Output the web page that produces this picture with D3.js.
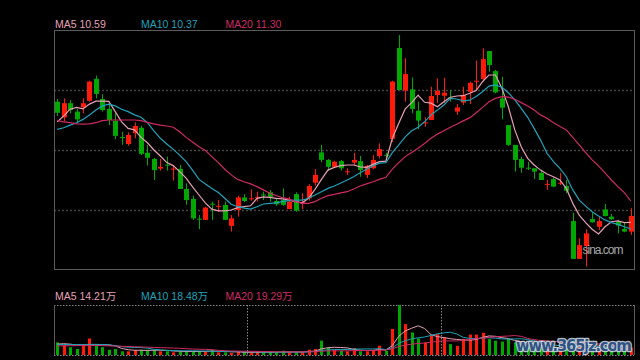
<!DOCTYPE html>
<html><head><meta charset="utf-8">
<script src="https://cdn.jsdelivr.net/npm/d3@7"></script>
<style>html,body{margin:0;padding:0;background:#000;}svg{display:block;}</style>
</head><body><svg id="c" width="640" height="360"></svg>
<script>
// ---------- data (prices in yuan, volumes in 万) ----------
const open = [14.61,14.09,14.56,14.28,14.42,14.64,15.37,14.70,14.37,13.97,
13.43,13.20,13.56,13.74,12.91,12.70,12.38,12.51,12.37,12.37,
11.70,11.37,10.71,10.67,11.21,11.13,11.17,10.47,11.00,11.42,
11.38,11.43,11.52,11.59,11.30,11.33,11.03,11.53,11.22,11.39,
11.91,12.92,12.67,12.44,12.63,12.28,12.58,12.63,12.17,12.39,
12.80,12.84,13.37,16.40,14.98,15.02,14.31,13.91,14.00,14.83,
14.81,14.75,14.28,14.58,14.94,15.30,15.37,16.30,15.63,14.72,
13.83,13.17,12.70,12.41,12.39,12.24,11.86,12.03,11.90,11.80,
10.63,9.37,9.80,10.70,10.44,11.02,10.78,10.61,10.37,10.28];
const close = [14.24,14.56,14.33,14.02,14.56,15.28,14.87,14.33,14.00,13.47,
13.42,13.50,13.80,12.87,12.74,12.33,12.44,12.50,12.38,11.70,
11.33,10.72,10.70,11.08,11.20,11.14,10.67,10.72,11.42,11.30,
11.39,11.44,11.51,11.44,11.19,11.17,11.28,10.98,11.26,11.80,
12.17,12.67,12.44,12.61,12.39,12.29,12.67,12.33,12.47,12.67,
13.03,12.83,15.28,15.00,15.53,14.37,13.98,13.92,14.80,14.97,
14.91,14.74,14.42,14.83,15.24,15.31,16.03,15.83,14.92,14.41,
13.17,12.67,12.41,12.40,12.28,12.00,11.87,11.78,11.91,11.64,
9.37,9.83,10.22,10.59,10.63,10.80,10.69,10.48,10.28,10.80];
const high = [14.70,14.72,14.67,14.37,14.72,15.31,15.48,14.86,14.50,14.22,
13.61,13.59,13.92,13.81,13.17,12.74,12.70,12.78,12.50,12.50,
11.89,11.48,10.83,11.11,11.28,11.33,11.28,10.83,11.48,11.53,
11.69,11.61,11.61,11.67,11.39,11.72,11.44,11.59,11.56,11.86,
12.37,13.17,12.70,12.64,12.67,12.39,12.91,12.80,12.50,12.83,
13.22,12.91,15.31,16.83,16.06,15.42,14.61,14.09,15.11,15.39,
15.41,15.00,14.53,15.11,15.28,15.98,16.39,16.30,15.67,15.44,
13.83,13.17,12.78,12.61,12.39,12.33,12.00,12.08,12.24,12.00,
10.91,10.06,10.36,10.91,10.78,11.20,10.87,10.67,10.58,11.06];
const low = [14.13,13.94,14.22,13.89,14.22,14.61,14.72,14.28,13.83,13.36,
13.17,13.14,13.39,12.83,12.48,12.00,12.31,12.31,11.98,11.70,
11.17,10.67,10.36,10.67,10.67,10.94,10.67,10.28,10.78,11.26,
11.31,11.28,11.33,11.28,11.14,11.14,11.03,10.94,11.03,11.31,
11.81,12.59,12.31,12.42,12.31,12.17,12.50,12.11,12.06,12.36,
12.72,12.67,13.26,15.00,14.61,14.22,13.69,13.78,14.00,14.56,
14.58,14.61,14.17,14.50,14.53,15.00,15.28,15.61,14.89,14.02,
13.13,12.28,12.24,12.33,12.03,12.00,11.67,11.76,11.83,11.56,
9.37,9.37,9.11,10.58,10.33,10.78,10.67,10.22,10.26,10.17];

const ma5 = [13.94,14.13,14.36,14.42,14.37,14.53,14.63,14.63,14.62,14.28,
13.94,13.72,13.67,13.42,13.24,13.00,12.80,12.58,12.48,12.28,
12.06,11.77,11.50,11.23,11.03,10.97,10.97,11.00,11.08,11.11,
11.14,11.39,11.44,11.42,11.39,11.37,11.33,11.28,11.24,11.39,
11.69,12.02,12.33,12.42,12.48,12.50,12.50,12.44,12.42,12.52,
12.61,12.63,13.39,13.89,14.37,14.58,14.83,14.59,14.56,14.44,
14.61,14.76,14.80,14.81,14.89,14.98,15.28,15.50,15.50,15.06,
14.44,13.67,13.11,12.72,12.50,12.33,12.20,12.11,12.00,11.72,
11.22,10.83,10.58,10.36,10.20,10.44,10.61,10.64,10.58,10.59];
const ma10 = [13.69,13.74,13.83,13.91,14.02,14.17,14.33,14.47,14.53,14.47,
14.36,14.28,14.17,14.09,13.91,13.64,13.39,13.20,13.02,12.83,
12.61,12.33,12.02,11.87,11.72,11.58,11.39,11.19,11.11,11.06,
11.03,11.11,11.20,11.22,11.24,11.29,11.31,11.33,11.33,11.39,
11.50,11.61,11.72,11.80,11.90,12.00,12.11,12.24,12.36,12.47,
12.56,12.58,12.91,13.17,13.44,13.64,13.76,13.94,14.17,14.33,
14.50,14.72,14.70,14.64,14.66,14.78,14.94,15.13,15.17,15.09,
14.91,14.67,14.39,14.09,13.72,13.33,12.89,12.61,12.39,12.11,
11.67,11.33,11.13,10.94,10.80,10.67,10.58,10.52,10.44,10.37];
const ma20 = [13.98,13.94,13.91,13.87,13.86,13.87,13.91,13.98,14.00,14.00,
14.00,14.00,14.00,13.98,13.92,13.87,13.83,13.80,13.76,13.61,
13.42,13.27,13.11,12.98,12.78,12.58,12.36,12.17,12.02,11.94,
11.87,11.78,11.67,11.56,11.48,11.41,11.36,11.28,11.22,11.22,
11.28,11.39,11.48,11.52,11.57,11.61,11.70,11.80,11.87,11.94,
12.02,12.09,12.36,12.58,12.78,12.92,13.06,13.22,13.39,13.53,
13.64,13.76,13.86,13.97,14.07,14.24,14.42,14.61,14.72,14.78,
14.76,14.69,14.58,14.47,14.33,14.17,14.06,13.91,13.78,13.67,
13.42,13.17,12.91,12.67,12.47,12.24,12.00,11.78,11.58,11.30];

const volume = [29,23,18,14,25,38,23,18,12,14,
8.5,8.5,11.5,12,12,11.5,8.5,8.5,6.2,8.5,
8.5,8.5,8.5,8.5,11.5,6.2,6.2,4.6,7.6,6.2,
6.2,6.2,6.2,6.2,6.2,9.9,6.2,6.2,6.2,12.2,
13.8,33,17.7,12.2,9.9,8.5,16,8.5,8.5,9.9,
21.4,9.9,60,115,71,52,38,29,44,48,
41,25,21,37,47,47,51,37,33,31,
37,29,25,18,17,15,14,14,13,19,
38,22,24,16,14,16,14,13,11,17];
const volMa5 = [25,26,25,23,21.8,23.6,23.6,23.6,23.2,21,
15.1,12.2,10.9,10.9,10.5,11.1,11.1,10.5,9.3,8.6,
8.0,8.0,8.0,8.5,9.1,8.6,8.2,7.4,7.2,6.2,
6.2,6.2,6.5,6.2,6.2,6.9,6.9,6.9,6.9,8.1,
8.9,14.3,16.6,17.8,17.3,16.3,12.9,11.0,10.3,10.3,
12.9,11.6,21.9,43.2,55.5,61.6,67.2,61,46.8,42.2,
40,37.4,35.8,34.4,34.2,35.4,40.6,43.8,43,39.8,
37.8,33.4,31,28,25.2,20.8,17.8,15.6,14.6,15,
19.6,21.2,23.2,23.8,22.8,18.4,16.8,14.6,13.6,14.21];
const volMa10 = [24,24,24,24,24,24.5,24.5,24,23.5,21.4,
19.4,17.9,17.3,17.1,15.8,13.1,11.7,10.7,10.1,9.6,
9.6,9.6,9.3,8.9,8.9,8.3,8.1,7.7,7.9,7.6,
7.4,7.2,6.9,6.7,6.2,6.6,6.6,6.7,6.6,7.2,
7.9,10.6,11.8,12.4,12.7,12.6,13.6,13.8,14.0,13.8,
14.6,12.3,16.5,26.8,32.9,37.2,39.4,41.5,45.0,48.8,
50.8,52.3,48.4,40.6,38.2,37.7,39,39.8,38.7,37,
36.6,37,37.4,35.5,32.5,29.3,25.6,23.3,21.3,20.1,
20.2,19.5,19.4,19.2,18.9,19,19,18.9,18.7,18.48];
const volMa20 = [21,21,21.5,21.5,22,22,22,21.5,21,20.5,
20,19.5,19,18.5,18,17.5,17,16.5,16,15.5,
14.5,13.7,13.3,13.0,12.3,10.7,9.9,9.2,9.0,8.6,
8.5,8.4,8.1,7.8,7.5,7.4,7.3,7.2,7.2,7.4,
7.7,8.9,9.4,9.5,9.5,9.6,10.1,10.3,10.3,10.5,
11.2,11.4,14.1,19.6,22.8,24.9,26.5,27.6,29.5,31.3,
32.7,32.3,32.4,33.7,35.5,37.5,39.2,40.6,41.9,42.9,
43.7,44.7,42.9,38.1,35.4,33.5,32.3,31.6,30,28.6,
28.4,28.3,28.4,27.4,25.7,24.2,22.3,21.1,20,19.29];

const maNames = ["MA5","MA10","MA20"];
const maLast = ["10.59","10.37","11.30"];
const volMaLast = ["14.21万","18.48万","19.29万"];
const gridPrices = [11,13,15];
const monthStarts = [30,60];

// ---------- layout ----------
const C = {bg:"#000", up:"#ff1a0a", down:"#00a800",
  ma:["#e6a0b6","#1ea3ba","#cf2a63"], frame:"#5c5c5c", grid:"#444", vgrid:"#8a8a8a"};
const L = {left:54, right:634, top:30, bottom:270, vTop:305, vBottom:355};
const svg = d3.select("#c");
svg.append("rect").attr("width",640).attr("height",360).attr("fill",C.bg);

const x = d3.scaleBand().domain(d3.range(open.length)).range([L.left, L.right]);
const cx = i => x(i) + x.bandwidth()/2;
const y = d3.scaleLinear().domain([9,17]).range([L.bottom, L.top]);
const yv = d3.scaleLinear().domain([0, d3.max(volume)]).range([L.vBottom, L.vTop]);

// grid (main)
svg.append("g").selectAll("line").data(gridPrices).join("line")
  .attr("x1",L.left).attr("x2",L.right)
  .attr("y1",d=>Math.round(y(d))+0.5).attr("y2",d=>Math.round(y(d))+0.5)
  .attr("stroke",C.grid).attr("stroke-width",1.3).attr("stroke-dasharray","2,2");

// main frame
svg.append("rect").attr("x",L.left+0.5).attr("y",L.top+0.5)
  .attr("width",L.right-L.left).attr("height",L.bottom-L.top-1)
  .attr("fill","none").attr("stroke",C.frame);

// candles
const idx = d3.range(open.length);
const cg = svg.append("g");
cg.selectAll("line").data(idx).join("line")
  .attr("x1",i=>Math.round(cx(i))+0.5).attr("x2",i=>Math.round(cx(i))+0.5)
  .attr("y1",i=>y(high[i])).attr("y2",i=>y(low[i]))
  .attr("stroke",i=>close[i]>=open[i]?C.up:C.down).attr("stroke-width",1);
cg.selectAll("rect").data(idx).join("rect")
  .attr("x",i=>Math.round(cx(i))-2).attr("width",5)
  .attr("y",i=>Math.min(y(open[i]),y(close[i])))
  .attr("height",i=>Math.max(1,Math.abs(y(open[i])-y(close[i]))))
  .attr("fill",i=>close[i]>=open[i]?C.up:C.down);

// MA lines
const line = d3.line().x((d,i)=>cx(i)).y(d=>y(d));
[ma5,ma10,ma20].forEach((s,k)=>{
  svg.append("path").datum(s).attr("d",line).attr("fill","none")
    .attr("stroke",C.ma[k]).attr("stroke-width",1.2);
});

// legend main
const fontF = "'Liberation Sans', Arial, 'Noto Sans CJK SC', sans-serif";
const legX = [55,141,225.5];
maNames.forEach((n,k)=>{
  svg.append("text").attr("x",legX[k]).attr("y",27.5).attr("fill",C.ma[k])
    .attr("font-family",fontF).attr("font-size",10.5).text(n+" "+maLast[k]);
  svg.append("text").attr("x",legX[k]).attr("y",299.5).attr("fill",C.ma[k])
    .attr("font-family",fontF).attr("font-size",10.5).text(n+" "+volMaLast[k]);
});

// sina watermark
svg.append("text").attr("x",582.5).attr("y",253.5).attr("fill","#a8a8a8")
  .attr("font-family",fontF).attr("font-size",12).attr("textLength",41)
  .text("sina.com");

// volume panel frame
const vf = svg.append("g");
[L.vTop, L.vBottom].forEach(yy=>{
  vf.append("line").attr("x1",L.left).attr("x2",L.right).attr("y1",yy+0.5).attr("y2",yy+0.5)
    .attr("stroke",C.vgrid).attr("stroke-dasharray","1.5,1.5");
});
[L.left, L.right].forEach(xx=>{
  vf.append("line").attr("x1",xx+0.5).attr("x2",xx+0.5).attr("y1",L.vTop).attr("y2",L.vBottom)
    .attr("stroke",C.frame);
});
vf.selectAll("line.m").data(monthStarts).join("line").attr("class","m")
  .attr("x1",d=>Math.round(x(d))+0.5).attr("x2",d=>Math.round(x(d))+0.5)
  .attr("y1",L.vTop).attr("y2",L.vBottom)
  .attr("stroke",C.vgrid).attr("stroke-dasharray","1.5,1.5");

// volume bars
svg.append("g").selectAll("rect").data(idx).join("rect")
  .attr("x",i=>Math.round(cx(i))-1).attr("width",3)
  .attr("y",i=>yv(volume[i])).attr("height",i=>L.vBottom-yv(volume[i]))
  .attr("fill",i=>close[i]>=open[i]?C.up:C.down);

// volume MA lines
const vline = d3.line().x((d,i)=>cx(i)).y(d=>yv(d));
[volMa5,volMa10,volMa20].forEach((s,k)=>{
  svg.append("path").datum(s).attr("d",vline).attr("fill","none")
    .attr("stroke",C.ma[k]).attr("stroke-width",1);
});

// site watermark overlay
svg.append("text").attr("x",516).attr("y",350.5)
  .attr("font-family","'DejaVu Sans', Verdana, sans-serif").attr("font-weight","bold")
  .attr("font-size",15).attr("textLength",116)
  .attr("fill","#2f5284").attr("stroke","#d8e0ea").attr("stroke-width",2.4)
  .attr("stroke-opacity",0.85).attr("paint-order","stroke").attr("stroke-linejoin","round")
  .text("www.365jz.com");
</script>
</body></html>
